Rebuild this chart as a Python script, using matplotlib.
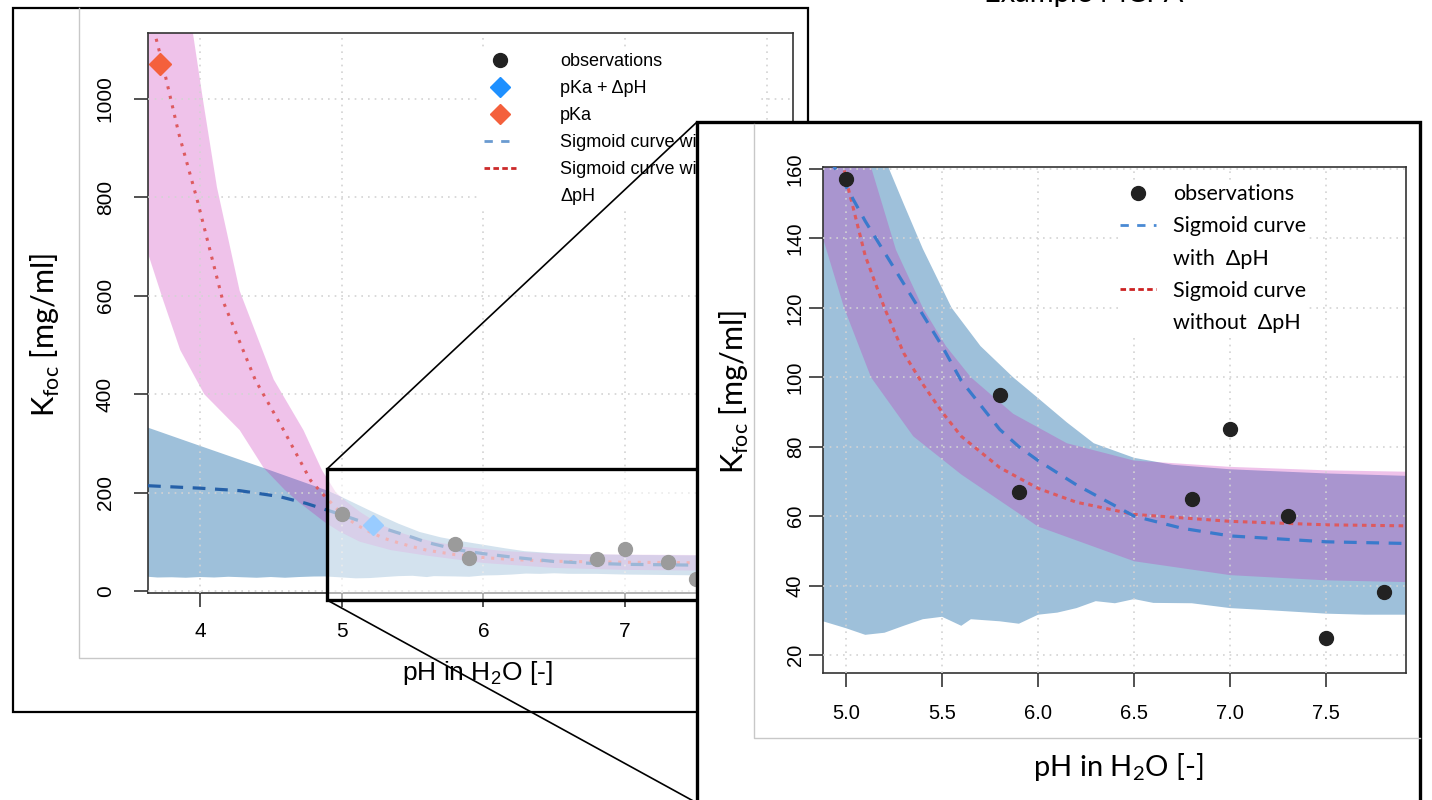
import numpy as np
import matplotlib
matplotlib.use("Agg")
import matplotlib.pyplot as plt
from matplotlib.patches import Rectangle
from matplotlib.lines import Line2D
from matplotlib.ticker import FormatStrFormatter

W, H = 1432, 800

# observations
obs_ph = [5.0, 5.8, 5.9, 6.8, 7.0, 7.3, 7.5, 7.8]
obs_k = [157, 95, 67, 65, 85, 60, 25, 38]

# pKa points
pka_ph, pka_k = [3.72], [1070]
pka_dph_ph, pka_dph_k = [5.22], [134]

# sigmoid curve without dpH (red)
red_ph = [3.64, 3.74, 3.85, 3.98, 4.16, 4.39, 4.59, 4.78, 4.86, 5.0, 5.1, 5.2,
          5.3, 5.4, 5.5, 5.6, 5.8, 6.0, 6.2, 6.5, 7.0, 7.5, 8.2]
red_k = [1180, 1066, 930, 795, 591, 429, 327, 225, 199, 157, 135, 120,
         107, 98, 90, 83, 74, 68, 64, 60.5, 58.5, 57.5, 57]

# sigmoid curve with dpH (blue)
blue_ph = [3.633, 4.0, 4.28, 4.56, 4.75, 4.88, 5.0, 5.1, 5.2, 5.3, 5.4, 5.5,
           5.6, 5.7, 5.8, 5.9, 6.0, 6.2, 6.5, 6.75, 7.0, 7.5, 8.2]
blue_k = [214, 209, 204, 192, 178, 166, 155, 145, 136, 127, 118, 109,
          99, 92, 85, 80, 76, 69, 60, 56.5, 54.3, 52.6, 51.8]

# band with dpH
bup_ph = [3.633, 4.0, 4.45, 4.9, 5.0, 5.22, 5.3, 5.4, 5.55, 5.7, 5.87, 6.0,
          6.15, 6.29, 6.5, 6.7, 7.0, 7.5, 7.92, 8.2]
bup_k = [332, 295, 250, 204, 191, 160.6, 150, 137, 120, 109, 100, 94,
         87, 81, 76.8, 74.8, 73.5, 72.3, 71.6, 71.4]
blo_ph = [3.633, 3.7, 3.8, 3.9, 4.0, 4.1, 4.2, 4.3, 4.4, 4.5, 4.6, 4.7, 4.8,
          4.88, 5.0, 5.1, 5.2, 5.3, 5.4, 5.5, 5.6, 5.65, 5.8, 5.9, 6.0, 6.1,
          6.2, 6.3, 6.4, 6.5, 6.6, 6.8, 7.0, 7.2, 7.5, 7.7, 7.92, 8.2]
blo_k = [29, 27.5, 28, 27, 28.5, 27.5, 29, 28, 27, 28.5, 27, 28.5, 29.5,
         29.7, 27.7, 25.8, 26.4, 28.4, 30.3, 31, 28.4, 30.3, 29.7, 29, 31.6, 32.2,
         33.5, 35.5, 34.9, 36.1, 35, 34.9, 33.5, 32.9, 31.9, 31.6, 31.6, 31]

# band without dpH
pup_ph = [3.633, 3.95, 4.02, 4.12, 4.28, 4.52, 4.73, 4.86, 4.96, 5.05, 5.13,
          5.26, 5.4, 5.52, 5.65, 5.87, 6.15, 6.5, 7.0, 7.5, 7.92, 8.2]
pup_k = [1700, 1134, 1000, 820, 610, 430, 327, 246, 200, 178, 160.6,
         136.7, 120, 109, 100, 89.5, 81, 76, 74.2, 73.2, 72.8, 72.6]
plo_ph = [3.633, 3.74, 3.86, 4.03, 4.28, 4.45, 4.6, 4.7, 4.88, 4.99, 5.13,
          5.35, 5.6, 6.0, 6.5, 7.0, 7.5, 7.92, 8.2]
plo_k = [686, 591, 490, 400, 327, 250, 205, 180, 140, 120, 100,
         83, 72, 57, 47, 43, 41.5, 41, 40.8]

BLUE_BAND = "#9ec0da"
PINK = "#c721b5"
RED = "#dd5a5f"
R_FONT = "Liberation Sans"
SLIDE_FONT = "Lato"


def fig_box(l, t, r, b):
    return [l / W, 1 - b / H, (r - l) / W, (b - t) / H]


def fx(x):
    return x / W


def fy(y):
    return 1 - y / H


def draw_panel(ax, red_ls, blue_color, blue_ls, tick_size, xpad, ypad):
    ax.fill(bup_ph + blo_ph[::-1], bup_k + blo_k[::-1], color=BLUE_BAND, lw=0, zorder=1)
    ax.fill(pup_ph + plo_ph[::-1], pup_k + plo_k[::-1], color=PINK, alpha=0.27, lw=0, zorder=1.1)
    ax.grid(True, color="#d3d3d3", ls=(0, (1, 3)), lw=1.2)
    ax.set_axisbelow(False)
    ax.plot(red_ph, red_k, color=RED, ls=red_ls, lw=2.2, zorder=3)
    ax.plot(blue_ph, blue_k, color=blue_color, ls=blue_ls, lw=2.3, zorder=3)
    ax.plot(obs_ph, obs_k, ls="none", marker="o", ms=10, color="#222222", zorder=4)
    for s in ax.spines.values():
        s.set_color("#333333")
        s.set_linewidth(1.2)
    ax.tick_params(direction="out", length=10, width=1.2, color="#333333",
                   labelsize=tick_size)
    ax.tick_params(axis="x", pad=xpad)
    ax.tick_params(axis="y", pad=ypad)
    for t in ax.get_yticklabels():
        t.set_rotation(90)
        t.set_va("center")
    for t in ax.get_xticklabels() + ax.get_yticklabels():
        t.set_family(R_FONT)


fig = plt.figure(figsize=(W / 100, H / 100), dpi=100)

# outer frame of the left picture
fig.add_artist(Rectangle((fx(13), fy(712)), fx(808 - 13), (712 - 8) / H, fill=False,
                         ec="black", lw=1.6, transform=fig.transFigure, zorder=0))
fig.add_artist(Line2D([fx(79), fx(79), fx(700)], [fy(8), fy(658), fy(658)],
                      color="#c8c8c8", lw=1, transform=fig.transFigure, zorder=0))

# left overview plot
ax1 = fig.add_axes(fig_box(148, 33, 793, 593))
ax1.set_xlim(3.633, 8.185)
ax1.set_ylim(-4, 1134)
ax1.set_xticks([4, 5, 6, 7, 8])
ax1.set_yticks([0, 200, 400, 600, 800, 1000])
draw_panel(ax1, (0, (1, 2.2)), "#2560a8", (0, (4, 3)), 15, 11, 14)
ax1.plot(pka_ph, pka_k, ls="none", marker="D", ms=11, color="#f4603c", zorder=5)
ax1.plot(pka_dph_ph, pka_dph_k, ls="none", marker="D", ms=10, color="#1e90ff", zorder=5)
fig.text(fx(477), fy(673), "pH in H$_\\mathregular{2}$O [-]", family=R_FONT,
         fontsize=19, ha="center", va="center")
fig.text(fx(45), fy(335), "K$_\\mathregular{foc}$ [mg/ml]", family=SLIDE_FONT, fontsize=22,
         rotation=90, ha="center", va="center")

h1 = [Line2D([], [], ls="none", marker="o", ms=10, color="#222222"),
      Line2D([], [], ls="none", marker="D", ms=10, color="#1e90ff"),
      Line2D([], [], ls="none", marker="D", ms=10, color="#f4603c"),
      Line2D([], [], color="#6a9bd0", ls=(0, (3, 3)), lw=2),
      Line2D([], [], color="#cc2a2a", ls=(0, (2, 1.2)), lw=2),
      Line2D([], [], ls="none")]
l1 = ["observations", "pKa + \u0394pH", "pKa", "Sigmoid curve with \u0394pH",
      "Sigmoid curve without", "\u0394pH"]
leg1 = ax1.legend(h1, l1, loc="upper left", bbox_to_anchor=(fx(478), fy(47)),
                  bbox_transform=fig.transFigure, prop={"family": R_FONT, "size": 13},
                  frameon=True, facecolor="white", edgecolor="none", framealpha=1,
                  fancybox=False, borderpad=0.35, handlelength=1.75, handletextpad=2.45,
                  labelspacing=0.55, borderaxespad=0)
leg1.set_zorder(6)

# zoom window in the overview
fig.add_artist(Rectangle((fx(327), fy(600)), fx(800 - 327), (600 - 469) / H,
                         fc=(1, 1, 1, 0.55), ec="black", lw=2.4,
                         transform=fig.transFigure, zorder=1))
fig.add_artist(Line2D([fx(327), fx(697)], [fy(469), fy(122)], color="black", lw=1.2,
                      transform=fig.transFigure, zorder=2))
fig.add_artist(Line2D([fx(327), fx(697)], [fy(600), fy(803)], color="black", lw=1.2,
                      transform=fig.transFigure, zorder=2))

# inset frame
fig.add_artist(Rectangle((fx(697), fy(830)), fx(1420 - 697), (830 - 122) / H,
                         fc="white", ec="black", lw=2.4,
                         transform=fig.transFigure, zorder=3))
fig.add_artist(Line2D([fx(754), fx(754), fx(1420)], [fy(124), fy(738), fy(738)],
                      color="#c8c8c8", lw=1, transform=fig.transFigure, zorder=3))

ax2 = fig.add_axes(fig_box(823, 167, 1405.7, 673))
ax2.set_zorder(4)
ax2.set_xlim(4.880, 7.914)
ax2.set_ylim(14.8, 160.6)
ax2.set_xticks([5.0, 5.5, 6.0, 6.5, 7.0, 7.5])
ax2.set_yticks([20, 40, 60, 80, 100, 120, 140, 160])
ax2.xaxis.set_major_formatter(FormatStrFormatter("%.1f"))
draw_panel(ax2, (0, (1.5, 1.5)), "#3a7acc", (0, (4, 3)), 14.5, 12, 3)
fig.text(fx(1118), fy(767), "pH in H$_\\mathregular{2}$O [-]", family=SLIDE_FONT,
         fontsize=21, ha="center", va="center", zorder=5)
fig.text(fx(734), fy(392), "K$_\\mathregular{foc}$ [mg/ml]", family=SLIDE_FONT,
         fontsize=22, rotation=90, ha="center", va="center", zorder=5)

h2 = [Line2D([], [], ls="none", marker="o", ms=10, color="#222222"),
      Line2D([], [], color="#4a8ad4", ls=(0, (3, 3)), lw=2),
      Line2D([], [], ls="none"),
      Line2D([], [], color="#cc2222", ls=(0, (2, 1.2)), lw=2),
      Line2D([], [], ls="none")]
l2 = ["observations", "Sigmoid curve", "with  \u0394pH", "Sigmoid curve", "without  \u0394pH"]
leg2 = ax2.legend(h2, l2, loc="upper left", bbox_to_anchor=(fx(1118), fy(182)),
                  bbox_transform=fig.transFigure, prop={"family": SLIDE_FONT, "size": 15.5},
                  frameon=True, facecolor="white", edgecolor="none", framealpha=1,
                  fancybox=False, borderpad=0.1, handlelength=1.67, handletextpad=0.8,
                  labelspacing=0.57, borderaxespad=0)

fig.text(fx(984), fy(2), "Example MCPA", family=SLIDE_FONT, fontsize=21,
         ha="left", va="baseline", zorder=5)

fig.savefig("out.png", dpi=100)
